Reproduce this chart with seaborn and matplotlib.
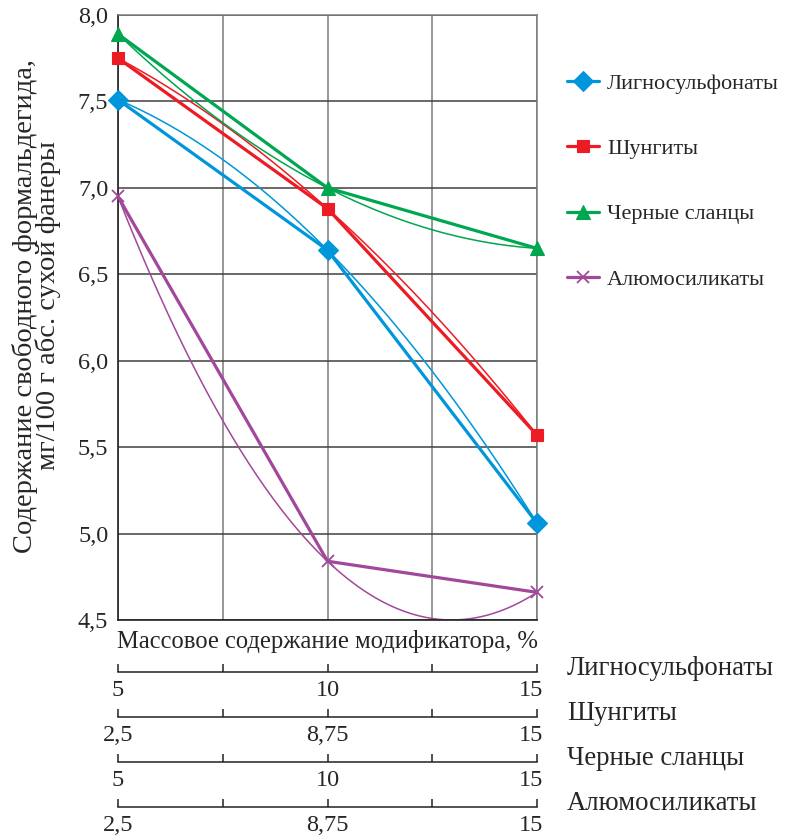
import numpy as np
import pandas as pd
import matplotlib
matplotlib.use("Agg")
import matplotlib.pyplot as plt
import matplotlib.transforms as mtransforms
import seaborn as sns

# Formaldehyde content vs modifier mass content (three dosage levels per modifier)
series_names = ["Лигносульфонаты", "Шунгиты", "Черные сланцы", "Алюмосиликаты"]
x_levels = [5, 10, 15]
ligno = [7.51, 6.64, 5.06]
shung = [7.75, 6.88, 5.57]
slate = [7.89, 7.00, 6.65]
alumo = [6.95, 4.84, 4.66]
series_values = [ligno, shung, slate, alumo]

y_ticks = [4.5, 5.0, 5.5, 6.0, 6.5, 7.0, 7.5, 8.0]
y_tick_labels = ["4,5", "5,0", "5,5", "6,0", "6,5", "7,0", "7,5", "8,0"]

# Scales of modifier content under the plot, one per modifier
scale_ticks = [
    ["5", "10", "15"],
    ["2,5", "8,75", "15"],
    ["5", "10", "15"],
    ["2,5", "8,75", "15"],
]

colors = ["#0096DB", "#ED1C24", "#00A650", "#A3479B"]
markers = ["D", "s", "^", "x"]
msizes = [10, 9, 10.5, 8]

sns.set_theme(style="white")
plt.rcParams["font.family"] = ["Liberation Serif", "DejaVu Serif"]

fig = plt.figure(figsize=(8.05, 8.36), dpi=100)
L, R, T, B = 118 / 805, 537 / 805, 15 / 836, 620 / 836
ax = fig.add_axes([L, 1 - B, R - L, B - T])

rows = []
for name, vals in zip(series_names, series_values):
    for xv, yv in zip(x_levels, vals):
        rows.append({"x": xv, "y": yv, "series": name})
df = pd.DataFrame(rows)

for name, col, mk, ms in zip(series_names, colors, markers, msizes):
    sub = df[df["series"] == name]
    # quadratic trend through the three points
    sns.regplot(data=sub, x="x", y="y", order=2, ci=None, scatter=False,
                truncate=True, ax=ax, color=col, line_kws={"lw": 1.1})
    sns.lineplot(data=sub, x="x", y="y", ax=ax, color=col, lw=2.3,
                 marker=mk, markersize=ms, markeredgecolor=col,
                 markeredgewidth=1.3 if mk == "x" else 0.8, label=name,
                 clip_on=False, zorder=5)

ax.set_xlim(5, 15)
ax.set_ylim(4.5, 8.0)
ax.set_xticks([5, 7.5, 10, 12.5, 15])
ax.set_xticklabels([])
ax.set_yticks(y_ticks)
ax.set_yticklabels(y_tick_labels, fontsize=17.5)
ax.tick_params(axis="both", length=0, pad=7)
ax.grid(True, axis="y", color="#404040", lw=1.1)
ax.grid(True, axis="x", color="#7a7a7a", lw=1.1)
for side in ["top", "right"]:
    ax.spines[side].set_color("#7a7a7a")
    ax.spines[side].set_linewidth(1.1)
for side in ["left", "bottom"]:
    ax.spines[side].set_color("#222222")
    ax.spines[side].set_linewidth(1.2)

ax.set_xlabel("Массовое содержание модификатора, %", fontsize=17.7, labelpad=0.5)
ax.set_ylabel("")
fig.text(12 / 805, 1 - 306 / 836,
         "Содержание свободного формальдегида,\nмг/100 г абс. сухой фанеры",
         fontsize=20.5, rotation=90, ha="left", va="center",
         multialignment="center", linespacing=0.86)

leg = ax.legend(loc="upper left", bbox_to_anchor=(567 / 805, 1 - 73 / 836),
                bbox_transform=fig.transFigure, frameon=False, fontsize=16,
                handlelength=1.45, handletextpad=0.35, labelspacing=2.02,
                borderpad=0, borderaxespad=0)

# Secondary scales
line_y = [672, 717, 762, 807]
for name, labels, ly in zip(series_names, scale_ticks, line_y):
    sax = fig.add_axes([L, 1 - ly / 836, R - L, 0.0001])
    sax.set_xlim(0, 1)
    sax.set_ylim(0, 1)
    for side in ["top", "right", "left"]:
        sax.spines[side].set_visible(False)
    sax.spines["bottom"].set_color("#222222")
    sax.spines["bottom"].set_linewidth(1.1)
    sax.set_yticks([])
    sax.set_xticks([0, 0.5, 1])
    sax.set_xticks([0.25, 0.75], minor=True)
    sax.set_xticklabels(labels, fontsize=17.5)
    sax.tick_params(axis="x", which="both", direction="in", length=6,
                    width=1.1, color="#222222", pad=5.5, bottom=True)
    # last label sits just inside the scale end
    last = sax.get_xticklabels()[-1]
    last.set_transform(last.get_transform() +
                       mtransforms.ScaledTranslation(-6 / 100, 0, fig.dpi_scale_trans))
    sax.set_facecolor("none")
    fig.text(567 / 805, 1 - (ly + 3) / 836, name, fontsize=19.3,
             ha="left", va="baseline")

fig.savefig("out.png", dpi=100)
